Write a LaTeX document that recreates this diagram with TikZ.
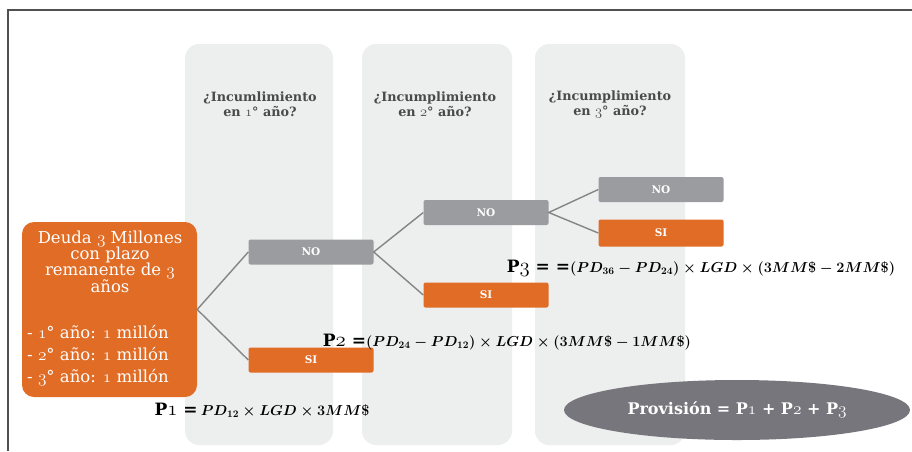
\documentclass[tikz,border=0pt]{standalone}
\usepackage{amsmath}
\usepackage{fontspec}
\setmainfont{DejaVu Serif}
\usetikzlibrary{shapes.geometric}
\definecolor{orng}{HTML}{E06C25}
\definecolor{gbox}{HTML}{9B9CA0}
\definecolor{colbg}{HTML}{EDEEEE}
\definecolor{lnk}{HTML}{858585}
\definecolor{ellc}{HTML}{76767C}
\definecolor{framec}{HTML}{505050}
\definecolor{hdr}{HTML}{4A4A4A}
\tikzset{
  colbox/.style={fill=colbg, rounded corners=14pt},
  ansno/.style={fill=gbox, text=white, font=\bfseries\fontsize{10.5}{12}\selectfont,
    minimum width=125pt, minimum height=25pt, inner sep=0pt, rounded corners=2pt},
  anssi/.style={ansno, fill=orng},
  hdrtxt/.style={text=hdr, font=\bfseries\fontsize{12.8}{15}\selectfont, align=center, inner sep=0pt},
  link/.style={draw=lnk, line width=1.4pt},
  formula/.style={text=black, inner sep=0pt},
  boxtxt/.style={text=white, inner sep=0pt},
}
\makeatletter
\newcommand{\os}[1]{{\usefont{OML}{lmm}{m}{it}\fontsize{\fpeval{1.15*\f@size}}{0}\selectfont #1}}
\newcommand{\osb}[1]{{\usefont{OML}{lmm}{b}{it}\fontsize{\fpeval{1.15*\f@size}}{0}\selectfont #1}}
\makeatother
\newcommand{\plab}[1]{{\bfseries\fontsize{17}{18}\selectfont #1}}
\newcommand{\fmath}[1]{{\fontsize{14.4}{18}\selectfont\boldmath$#1$}}
\begin{document}
\begin{tikzpicture}[x=1pt,y=-1pt]
\useasboundingbox (0,0) rectangle (912,451);
\fill[white] (0,0) rectangle (912,451);
% frame
\draw[framec, line width=1.2pt] (8,451) -- (8,10) -- (912,10);
% columns
\fill[colbox] (185,44) rectangle (333,445);
\fill[colbox] (362,44) rectangle (512,445);
\fill[colbox] (535,44) rectangle (685,445);
% headers
\node[hdrtxt] (h1) at (260,104.5) {¿Incumlimiento\\en \osb{1}° año?};
\node[hdrtxt] (h2) at (435,104.5) {¿Incumplimiento\\en \osb{2}° año?};
\node[hdrtxt] (h3) at (610,104.5) {¿Incumplimiento\\en \osb{3}° año?};
% debt box
\node[fill=orng, minimum width=175pt, minimum height=175pt, rounded corners=12pt, inner sep=0pt] (debt) at (109.5,309.5) {};
\node[boxtxt, align=center, font=\fontsize{16.5}{16}\selectfont] (debthead) at (110,262) {Deuda \os{3} Millones\\con plazo\\remanente de \os{3}\\años};
\node[boxtxt, align=left, anchor=west, font=\fontsize{16.5}{22}\selectfont] (debtlist) at (27,356) {- \os{1}° año: \os{1} millón\\- \os{2}° año: \os{1} millón\\- \os{3}° año: \os{1} millón};
% answer boxes
\node[ansno] (no1) at (311,252) {NO};
\node[anssi] (si1) at (311,360) {SI};
\node[ansno] (no2) at (486,212.5) {NO};
\node[anssi] (si2) at (486,295) {SI};
\node[ansno] (no3) at (661,189.5) {NO};
\node[anssi, minimum height=27pt] (si3) at (661,233) {SI};
% connectors
\draw[link] (no1.west) -- (debt.east) -- (si1.west);
\draw[link] (no2.west) -- (no1.east) -- (si2.west);
\draw[link] (no3.west) -- (no2.east) -- (si3.west);
% formulas
\node[formula] (p1) at (262,410) {\plab{P\osb{1} =} \fmath{PD_{12}\times LGD\times 3MM\$}};
\node[formula] (p2) at (507,342) {\plab{P\osb{2} =}\fmath{(PD_{24}-PD_{12})\times LGD\times(3MM\$-1MM\$)}};
\node[formula] (p3) at (701,268) {\plab{P\osb{3} = =}\fmath{(PD_{36}-PD_{24})\times LGD\times(3MM\$-2MM\$)}};
% provision ellipse
\node[ellipse, fill=ellc, text=white, minimum width=346pt, minimum height=60pt, inner sep=0pt,
  font=\bfseries\fontsize{16}{18}\selectfont] (prov) at (737,410) {Provisión = P\osb{1} + P\osb{2} + P\osb{3}};
\end{tikzpicture}
\end{document}
